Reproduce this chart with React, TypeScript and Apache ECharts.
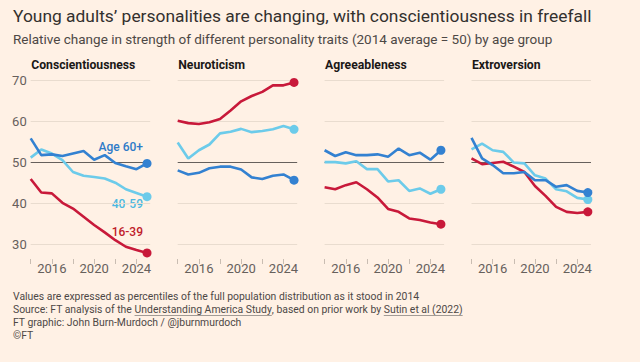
import React, { useEffect, useRef } from "react";
import * as echarts from "echarts";

const years = [2014, 2015, 2016, 2017, 2018, 2019, 2020, 2021, 2022, 2023, 2024, 2025];
const panelTitles = ["Conscientiousness", "Neuroticism", "Agreeableness", "Extroversion"];
const groupNames = ["16-39", "40-59", "Age 60+"];
const xTickValues = [2014, 2016, 2018, 2020, 2022, 2024];
const xLabelValues = [2016, 2020, 2024];

// Conscientiousness
const consc1639 = [45.9, 42.6, 42.4, 40.1, 38.7, 36.7, 34.7, 32.9, 31.0, 29.4, 28.6, 27.9];
const consc4059 = [51.1, 53.1, 52.1, 50.5, 47.6, 46.7, 46.4, 46.0, 45.0, 43.4, 42.5, 41.6];
const consc60 = [55.8, 51.7, 51.9, 51.5, 52.1, 52.7, 50.6, 51.7, 49.8, 49.0, 48.3, 49.7];
// Neuroticism
const neuro1639 = [60.1, 59.5, 59.3, 59.7, 60.5, 62.6, 64.8, 66.1, 67.1, 68.7, 68.7, 69.4];
const neuro4059 = [54.8, 50.9, 52.9, 54.3, 57.0, 57.4, 58.1, 57.3, 57.6, 58.0, 58.8, 58.0];
const neuro60 = [48.0, 47.0, 47.4, 48.5, 48.9, 48.9, 48.2, 46.3, 45.9, 46.7, 47.0, 45.6];
// Agreeableness
const agree1639 = [43.9, 43.4, 44.4, 45.1, 43.4, 41.4, 38.6, 37.9, 36.3, 35.9, 35.3, 34.9];
const agree4059 = [50.0, 50.0, 49.7, 50.2, 48.3, 48.3, 45.3, 45.6, 43.0, 43.6, 42.3, 43.4];
const agree60 = [52.9, 51.5, 52.4, 51.7, 51.7, 51.9, 51.3, 53.3, 51.7, 52.3, 50.6, 52.9];
// Extroversion
const extro1639 = [50.9, 49.5, 49.8, 50.1, 48.9, 47.6, 44.2, 41.8, 39.1, 37.9, 37.6, 37.9];
const extro4059 = [53.1, 54.5, 52.9, 52.5, 49.9, 49.7, 46.8, 46.0, 43.4, 42.9, 41.3, 40.9];
const extro60 = [55.9, 50.9, 49.3, 47.3, 47.3, 47.6, 45.6, 45.6, 44.0, 44.4, 43.0, 42.6];

const panelData = [
  [consc1639, consc4059, consc60],
  [neuro1639, neuro4059, neuro60],
  [agree1639, agree4059, agree60],
  [extro1639, extro4059, extro60],
];

const lineColors = ["#c8193a", "#6ccbea", "#3381d1"];
const labelColors = ["#c0202a", "#4cb8e0", "#2f7bc8"];
const FONT = "Roboto, 'Noto Sans', sans-serif";

const title = "Young adults\u2019 personalities are changing, with conscientiousness in freefall";
const subtitle = "Relative change in strength of different personality traits (2014 average = 50) by age group";
const note1 = "Values are expressed as percentiles of the full population distribution as it stood in 2014";
const src1 = "Source: FT analysis of the ";
const src2 = "Understanding America Study";
const src3 = ", based on prior work by ";
const src4 = "Sutin et al (2022)";
const note3 = "FT graphic: John Burn-Murdoch / @jburnmurdoch";
const note4 = "\u00a9FT";

const GRID_LEFTS = [30.7, 177.7, 324.6, 471.5];
const GRID_W = 119.5;
const GRID_TOP = 80;
const GRID_H = 164.3;
const FOOT_SIZE = 10.4;

function measure(text: string, font: string): number {
  const c = document.createElement("canvas");
  const ctx = c.getContext("2d");
  if (!ctx) return text.length * 5.2;
  ctx.font = font;
  return ctx.measureText(text).width;
}

export default function App() {
  const ref = useRef<HTMLDivElement>(null);
  useEffect(() => {
    document.body.style.margin = "0";
    if (!ref.current) return;
    const chart = echarts.init(ref.current, null, { renderer: "svg" });

    const grids = GRID_LEFTS.map((l) => ({ left: l, top: GRID_TOP, width: GRID_W, height: GRID_H }));
    const xAxes = GRID_LEFTS.map((_, i) => ({
      type: "value",
      gridIndex: i,
      min: 2014,
      max: 2025.3,
      offset: 14.7,
      axisLine: { show: false },
      axisTick: { show: true, customValues: xTickValues, length: 5, lineStyle: { color: "#c9bdb2", width: 1 } },
      axisLabel: {
        customValues: xLabelValues,
        color: "#66605c",
        fontSize: 13,
        fontFamily: FONT,
        margin: 3,
        formatter: (v: number) => String(v),
      },
      splitLine: { show: false },
    }));
    const yAxes = GRID_LEFTS.map((_, i) => ({
      type: "value",
      gridIndex: i,
      min: 30,
      max: 70,
      interval: 10,
      axisLine: { show: false },
      axisTick: { show: false },
      axisLabel: { show: i === 0, color: "#66605c", fontSize: 13, fontFamily: FONT, margin: 4 },
      splitLine: {
        show: true,
        lineStyle: { color: ["#e9dccf", "#e9dccf", "#66605c", "#e9dccf", "#e9dccf"], width: 1 },
      },
    }));

    const series: any[] = [];
    panelData.forEach((groups, p) => {
      groups.forEach((vals, g) => {
        series.push({
          type: "line",
          name: groupNames[g] + " " + panelTitles[p],
          xAxisIndex: p,
          yAxisIndex: p,
          data: years.map((y, k) => [y, vals[k]]),
          clip: false,
          silent: true,
          z: 2 + g,
          symbol: "circle",
          showSymbol: true,
          symbolSize: (_v: any, params: any) => (params.dataIndex === years.length - 1 ? 9 : 0),
          lineStyle: { color: lineColors[g], width: 2.6 },
          itemStyle: { color: lineColors[g] },
        });
      });
    });

    const footFont = `${FOOT_SIZE}px ${FONT}`;
    const w1 = measure(src1, footFont);
    const w2 = measure(src2, footFont);
    const w3 = measure(src3, footFont);
    const w4 = measure(src4, footFont);
    const fx = 13;
    const footColor = "#4d4845";
    const footText = (text: string, x: number, y: number) => ({
      type: "text",
      x,
      y,
      style: { text, fill: footColor, fontSize: FOOT_SIZE, fontFamily: FONT, textVerticalAlign: "middle" },
    });

    const graphic: any[] = [
      {
        type: "text",
        x: 13,
        y: 15.5,
        style: { text: title, fill: "#33302e", fontSize: 17.4, fontFamily: FONT, textVerticalAlign: "middle" },
      },
      {
        type: "text",
        x: 13,
        y: 39,
        style: { text: subtitle, fill: "#4d4845", fontSize: 13.5, fontFamily: FONT, textVerticalAlign: "middle" },
      },
      ...panelTitles.map((t, i) => ({
        type: "text",
        x: GRID_LEFTS[i] + 0.5,
        y: 65,
        style: { text: t, fill: "#1a1817", fontSize: 12.2, fontWeight: "bold", fontFamily: FONT, textVerticalAlign: "middle" },
      })),
      {
        type: "text",
        x: 143,
        y: 147,
        style: { text: groupNames[2], fill: labelColors[2], fontSize: 12, fontWeight: 500, fontFamily: FONT, textAlign: "right", textVerticalAlign: "middle" },
      },
      {
        type: "text",
        x: 143,
        y: 204,
        style: { text: groupNames[1], fill: labelColors[1], fontSize: 12, fontWeight: 500, fontFamily: FONT, textAlign: "right", textVerticalAlign: "middle" },
      },
      {
        type: "text",
        x: 143,
        y: 232,
        style: { text: groupNames[0], fill: labelColors[0], fontSize: 12, fontWeight: 500, fontFamily: FONT, textAlign: "right", textVerticalAlign: "middle" },
      },
      footText(note1, fx, 296),
      footText(src1, fx, 309.3),
      footText(src2, fx + w1, 309.3),
      footText(src3, fx + w1 + w2, 309.3),
      footText(src4, fx + w1 + w2 + w3, 309.3),
      {
        type: "line",
        shape: { x1: fx + w1, y1: 315.5, x2: fx + w1 + w2, y2: 315.5 },
        style: { stroke: "#8a8580", lineWidth: 0.8 },
      },
      {
        type: "line",
        shape: { x1: fx + w1 + w2 + w3, y1: 315.5, x2: fx + w1 + w2 + w3 + w4, y2: 315.5 },
        style: { stroke: "#8a8580", lineWidth: 0.8 },
      },
      footText(note3, fx, 322.6),
      footText(note4, fx, 335.8),
    ];

    chart.setOption({
      animation: false,
      backgroundColor: "#fff1e5",
      grid: grids,
      xAxis: xAxes,
      yAxis: yAxes,
      series,
      graphic,
    });
    return () => chart.dispose();
  }, []);
  return <div ref={ref} style={{ width: 640, height: 362 }} />;
}
